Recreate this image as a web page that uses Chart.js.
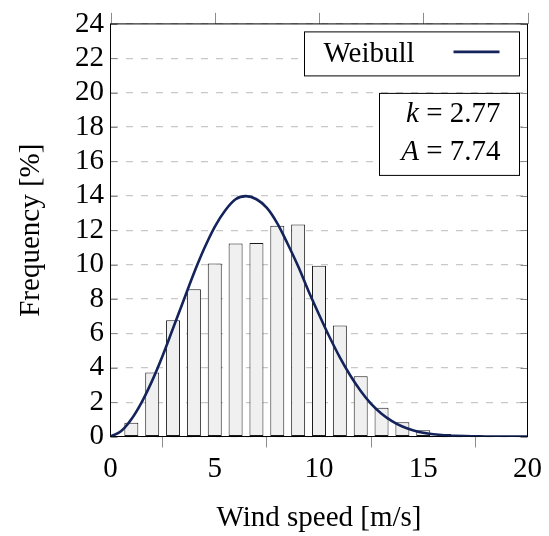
<!DOCTYPE html>
<html>
<head>
<meta charset="utf-8">
<script src="https://cdn.jsdelivr.net/npm/chart.js@4"></script>
<style>
  html, body { margin: 0; padding: 0; background: #fff; }
</style>
</head>
<body>
<canvas id="windChart" width="549" height="536"></canvas>
<script>
// measured histogram (bar centres in m/s, frequency in %)
const binCenters = [1, 2, 3, 4, 5, 6, 7, 8, 9, 10, 11, 12, 13, 14, 15, 16, 17, 18];
const binFreq = [0.8, 3.73, 6.76, 8.57, 10.07, 11.22, 11.26, 12.26, 12.33, 9.93, 6.46, 3.5, 1.67, 0.83, 0.37, 0.14, 0.05, 0.02];

// weibull curve
const curveX = [0, 0.5, 1, 1.5, 2, 2.5, 3, 3.5, 4, 4.5, 5, 5.5, 6, 6.5, 7, 7.5, 8, 8.5, 9, 9.5,
    10, 10.5, 11, 11.5, 12, 12.5, 13, 13.5, 14, 14.5, 15, 15.5, 16, 16.5, 17, 17.5, 18, 18.5, 19, 19.5, 20];
const curveY = [0, 0.3, 1.0, 2.0, 3.25, 4.7, 6.3, 7.9, 9.5, 10.95, 12.2, 13.15, 13.8, 13.98, 13.8, 13.3, 12.4, 11.2, 9.9, 8.45,
    7.1, 5.8, 4.6, 3.55, 2.65, 1.9, 1.33, 0.9, 0.58, 0.37, 0.22, 0.13, 0.07, 0.04, 0.02, 0.01, 0, 0, 0, 0, 0];

const seriesName = 'Weibull';
const paramLines = [['k', ' = 2.77'], ['A', ' = 7.74']];
const xTitle = 'Wind speed [m/s]';
const yTitle = 'Frequency [%]';

const curveColor = '#14245b';
const serif = "'Liberation Serif', 'Times New Roman', serif";

Chart.defaults.font.family = serif;
Chart.defaults.font.size = 29;
Chart.defaults.color = '#000';

const frameAndBoxes = {
    id: 'frameAndBoxes',
    beforeDatasetsDraw(chart) {
        const {ctx, chartArea: a, scales: {x, y}} = chart;
        ctx.save();
        ctx.strokeStyle = '#8c8c8c';
        ctx.lineWidth = 1;
        ctx.beginPath();
        y.ticks.forEach(t => {
            const py = Math.round(y.getPixelForValue(t.value)) + 0.5;
            ctx.moveTo(a.left, py); ctx.lineTo(a.left + 7, py);
            ctx.moveTo(a.right, py); ctx.lineTo(a.right - 7, py);
        });
        x.ticks.forEach(t => {
            const px = Math.round(x.getPixelForValue(t.value)) + 0.5;
            ctx.moveTo(px, a.top); ctx.lineTo(px, a.top - 11);
        });
        ctx.stroke();
        ctx.strokeStyle = '#000';
        ctx.strokeRect(a.left, a.top, a.right - a.left, a.bottom - a.top);
        ctx.restore();
    },
    afterDatasetsDraw(chart) {
        const {ctx, chartArea: a} = chart;
        ctx.save();
        ctx.lineWidth = 1;
        ctx.strokeStyle = '#000';
        ctx.fillStyle = '#fff';

        // legend box
        const lx = a.right - 223, ly = a.top + 8, lw = 215, lh = 44;
        ctx.fillRect(lx, ly, lw, lh);
        ctx.strokeRect(lx, ly, lw, lh);
        ctx.fillStyle = '#000';
        ctx.font = '29px ' + serif;
        ctx.textBaseline = 'alphabetic';
        ctx.fillText(chart.data.datasets[0].label, lx + 19, ly + 30);
        ctx.strokeStyle = curveColor;
        ctx.lineWidth = 2.6;
        ctx.beginPath();
        ctx.moveTo(lx + 149, ly + 20);
        ctx.lineTo(lx + 195, ly + 20);
        ctx.stroke();

        // parameter box
        const px = a.right - 148, py = a.top + 69.5, pw = 140, ph = 82;
        ctx.lineWidth = 1;
        ctx.strokeStyle = '#000';
        ctx.fillStyle = '#fff';
        ctx.fillRect(px, py, pw, ph);
        ctx.strokeRect(px, py, pw, ph);
        ctx.fillStyle = '#000';
        paramLines.forEach((ln, i) => {
            const base = py + 29 + i * 37.5;
            ctx.font = 'italic 29px ' + serif;
            const w1 = ctx.measureText(ln[0]).width;
            ctx.font = '29px ' + serif;
            const w2 = ctx.measureText(ln[1]).width;
            const x0 = px + pw - 19 - w1 - w2;
            ctx.font = 'italic 29px ' + serif;
            ctx.fillText(ln[0], x0, base);
            ctx.font = '29px ' + serif;
            ctx.fillText(ln[1], x0 + w1, base);
        });
        ctx.restore();
    }
};

new Chart(document.getElementById('windChart'), {
    type: 'bar',
    data: {
        datasets: [{
            type: 'line',
            label: seriesName,
            data: curveX.map((v, i) => ({x: v, y: curveY[i]})),
            borderColor: curveColor,
            borderWidth: 2.6,
            pointRadius: 0,
            cubicInterpolationMode: 'monotone',
            fill: false,
            order: 0
        }, {
            type: 'bar',
            label: 'Measured',
            data: binCenters.map((v, i) => ({x: v, y: binFreq[i]})),
            backgroundColor: '#f0f0f0',
            borderColor: '#1a1a1a',
            borderWidth: 1,
            borderSkipped: false,
            barPercentage: 0.67,
            categoryPercentage: 1,
            order: 1
        }]
    },
    options: {
        responsive: false,
        animation: false,
        layout: {padding: {left: 0, right: 21.5, top: 20.5, bottom: 0}},
        plugins: {
            legend: {display: false},
            tooltip: {enabled: false}
        },
        scales: {
            x: {
                type: 'linear',
                min: 0,
                max: 20,
                offset: false,
                ticks: {stepSize: 5, padding: 4, maxRotation: 0, autoSkip: false},
                grid: {drawOnChartArea: false, drawTicks: true, tickLength: 11, color: '#8c8c8c'},
                border: {display: false},
                title: {display: true, text: xTitle, padding: {top: 0, bottom: 0}},
                afterFit: s => { s.height = 99.5; }
            },
            y: {
                min: 0,
                max: 24,
                ticks: {stepSize: 2, padding: 6.5, autoSkip: false},
                grid: {drawTicks: false, color: '#c8c8c8', lineWidth: 1.2},
                border: {display: false, dash: [7, 8]},
                title: {display: true, text: yTitle, padding: {top: 14, bottom: 0}},
                afterFit: s => { s.width = 110.5; }
            }
        }
    },
    plugins: [frameAndBoxes]
});
</script>
</body>
</html>
